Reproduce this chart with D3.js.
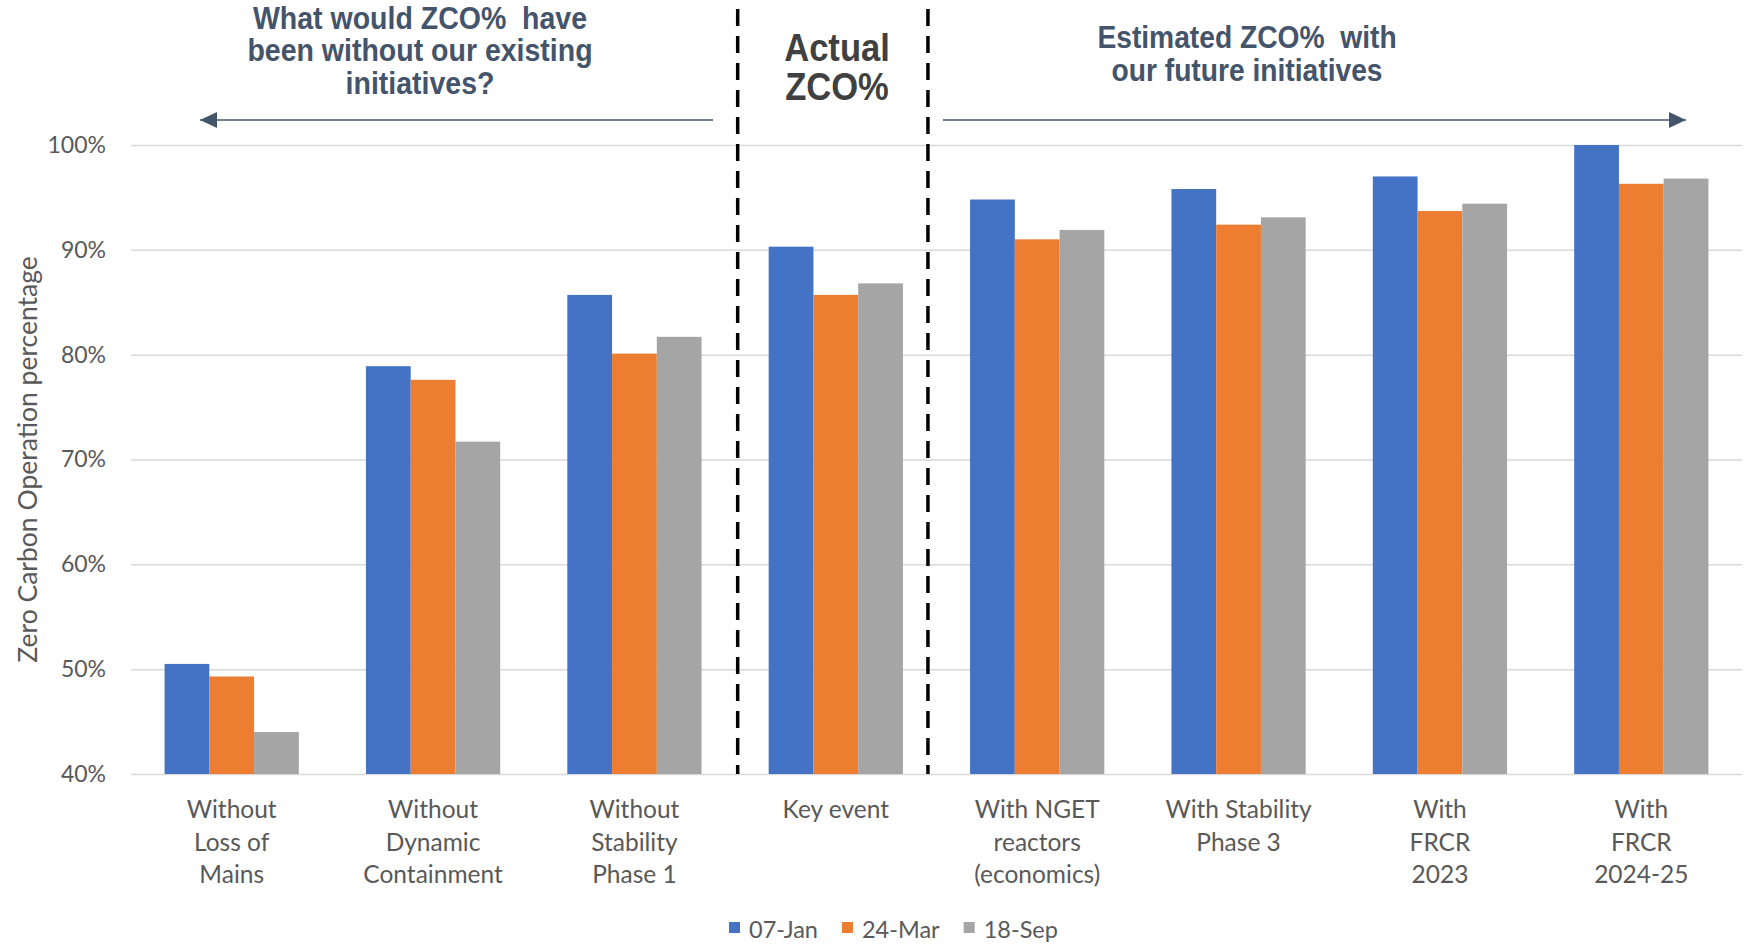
<!DOCTYPE html>
<html>
<head>
<meta charset="utf-8">
<script src="https://cdn.jsdelivr.net/npm/d3@7"></script>
<style>
  body { margin: 0; background: #fff; }
  text { font-family: Lato, "Noto Sans", sans-serif; }
</style>
</head>
<body>
<script>
// data
var categories = [
  "Without|Loss of|Mains",
  "Without|Dynamic|Containment",
  "Without|Stability|Phase 1",
  "Key event",
  "With NGET|reactors|(economics)",
  "With Stability|Phase 3",
  "With|FRCR|2023",
  "With|FRCR|2024-25"
];
var seriesNames = ["07-Jan", "24-Mar", "18-Sep"];
var jan = [50.5, 78.9, 85.7, 90.3, 94.8, 95.8, 97.0, 100.0];
var mar = [49.3, 77.6, 80.1, 85.7, 91.0, 92.4, 93.7, 96.3];
var sep = [44.0, 71.7, 81.7, 86.8, 91.9, 93.1, 94.4, 96.8];
var yTicks = [40, 50, 60, 70, 80, 90, 100];
var colors = ["#4472C4", "#ED7D31", "#A5A5A5"];

var W = 1754, H = 944;
var margin = {top: 145, bottom: 170, left: 131, right: 12};

var svg = d3.select("body").append("svg")
    .attr("width", W)
    .attr("height", H);

// SCALES
var x0 = d3.scaleBand()
    .domain(categories)
    .range([margin.left, W - margin.right])
    .paddingInner(1/3)
    .paddingOuter(1/6);

var x1 = d3.scaleBand()
    .domain(seriesNames)
    .range([0, x0.bandwidth()]);

var y = d3.scaleLinear()
    .domain([40, 100])
    .range([H - margin.bottom, margin.top]);

var table = categories.map(function(c, i) {
  return {cat: c, vals: [jan[i], mar[i], sep[i]]};
});

// GRID
var yAxis = svg.append("g")
    .attr("transform", "translate(" + margin.left + ",0)")
    .call(d3.axisLeft(y).tickValues(yTicks)
          .tickSize(-(W - margin.left - margin.right))
          .tickFormat(function(d) { return d + "%"; }));
yAxis.select(".domain").remove();
yAxis.selectAll(".tick line").attr("stroke", "#D9D9D9").attr("stroke-width", 1.5);
yAxis.selectAll(".tick text")
    .attr("x", -25)
    .attr("fill", "#595959")
    .style("font-size", "23px")
    .style("font-family", "Lato");

// BARS
var groups = svg.append("g").selectAll("g")
    .data(table)
    .enter().append("g")
    .attr("transform", function(d) { return "translate(" + x0(d.cat) + ",0)"; });

groups.selectAll("rect")
    .data(function(d) { return d.vals.map(function(v, k) { return {k: k, v: v}; }); })
    .enter().append("rect")
    .attr("x", function(d) { return x1(seriesNames[d.k]); })
    .attr("y", function(d) { return y(d.v); })
    .attr("width", x1.bandwidth())
    .attr("height", function(d) { return y(40) - y(d.v); })
    .attr("fill", function(d) { return colors[d.k]; });

// CATEGORY LABELS
var catLbl = svg.append("g").selectAll("text")
    .data(categories)
    .enter().append("text")
    .attr("text-anchor", "middle")
    .attr("fill", "#595959")
    .style("font-size", "24.5px");
catLbl.each(function(c) {
  var t = d3.select(this);
  c.split("|").forEach(function(line, i) {
    t.append("tspan")
      .attr("x", x0(c) + x0.bandwidth() / 2)
      .attr("y", 818 + i * 32.5)
      .text(line);
  });
});

// AXIS TITLE
svg.append("text")
    .attr("transform", "translate(37," + ((y(40) + y(100)) / 2) + ") rotate(-90)")
    .attr("text-anchor", "middle")
    .attr("fill", "#595959")
    .style("font-size", "26.5px")
    .text("Zero Carbon Operation percentage");

// DASHED SEPARATORS
var keyStart = x0(categories[3]);
var sepX = [keyStart - 31, keyStart + x0.bandwidth() + 25];
svg.append("g").selectAll("line")
    .data(sepX)
    .enter().append("line")
    .attr("x1", function(d) { return d; })
    .attr("x2", function(d) { return d; })
    .attr("y1", 9)
    .attr("y2", y(40))
    .attr("stroke", "#000")
    .attr("stroke-width", 3.5)
    .attr("stroke-dasharray", "17,10");

// ARROWS
svg.append("defs").append("marker")
    .attr("id", "head")
    .attr("viewBox", "0 0 17 16")
    .attr("refX", 17).attr("refY", 8)
    .attr("markerWidth", 17).attr("markerHeight", 16)
    .attr("markerUnits", "userSpaceOnUse")
    .attr("orient", "auto")
    .append("path")
    .attr("d", "M0,0 L17,8 L0,16 Z")
    .attr("fill", "#44546A");

var arrows = [[713, 200], [943, 1686]];
svg.append("g").selectAll("line")
    .data(arrows)
    .enter().append("line")
    .attr("x1", function(d) { return d[0]; })
    .attr("x2", function(d) { return d[1]; })
    .attr("y1", 120).attr("y2", 120)
    .attr("stroke", "#44546A")
    .attr("stroke-width", 1.6)
    .attr("marker-end", "url(#head)");

// HEADINGS
function heading(cx, lines, y0, lh, size, col, sx) {
  var g = svg.append("g").attr("transform", "translate(" + cx + ",0) scale(" + sx + ",1)");
  g.selectAll("text").data(lines).enter().append("text")
    .attr("x", 0)
    .attr("y", function(d, i) { return y0 + i * lh; })
    .attr("text-anchor", "middle")
    .attr("fill", col)
    .style("font-family", "'Liberation Sans', Arial, sans-serif")
    .style("font-weight", "bold")
    .style("font-size", size + "px")
    .text(function(d) { return d; });
}
heading(420, ["What would ZCO%\u00a0\u00a0have", "been without our existing", "initiatives?"], 29, 32.5, 31, "#44546A", 0.92);
heading(837, ["Actual", "ZCO%"], 61, 39, 38, "#404040", 0.91);
heading(1247, ["Estimated ZCO%\u00a0\u00a0with", "our future initiatives"], 48, 33, 31, "#44546A", 0.91);

// LEGEND
var legend = svg.append("g");
var lx = 729;
seriesNames.forEach(function(s, i) {
  legend.append("rect")
    .attr("x", lx).attr("y", 922)
    .attr("width", 11).attr("height", 11)
    .attr("fill", colors[i]);
  var t = legend.append("text")
    .attr("x", lx + 20).attr("y", 938)
    .attr("fill", "#595959")
    .style("font-size", "23.5px")
    .text(s);
  lx += 20 + t.node().getComputedTextLength() + 24;
});
</script>
</body>
</html>
